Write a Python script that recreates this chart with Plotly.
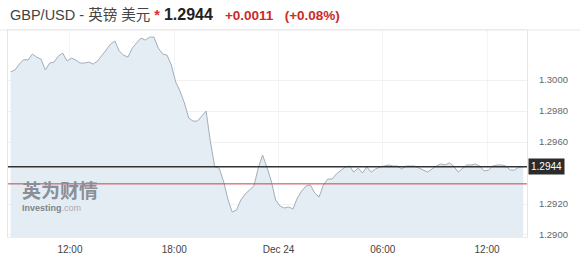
import plotly.graph_objects as go
import pandas as pd

# ---- data ----
start_time = "2019-12-23 08:35"
n_points = 119
values = [
    1.30053, 1.30065, 1.30103, 1.30132, 1.30129, 1.30168, 1.30148, 1.30135, 1.30065, 1.30110,
    1.30116, 1.30155, 1.30174, 1.30123, 1.30142, 1.30129, 1.30110, 1.30110, 1.30116, 1.30103,
    1.30123, 1.30155, 1.30194, 1.30232, 1.30252, 1.30187, 1.30161, 1.30148, 1.30206, 1.30239,
    1.30271, 1.30258, 1.30277, 1.30277, 1.30206, 1.30168, 1.30161, 1.30097, 1.29987, 1.29929,
    1.29852, 1.29755, 1.29735, 1.29735, 1.29768, 1.29800, 1.29600, 1.29439, 1.29432, 1.29348,
    1.29232, 1.29148, 1.29161, 1.29226, 1.29265, 1.29290, 1.29316, 1.29432, 1.29516, 1.29439,
    1.29348, 1.29226, 1.29187, 1.29174, 1.29181, 1.29168, 1.29239, 1.29284, 1.29316, 1.29323,
    1.29271, 1.29245, 1.29323, 1.29361, 1.29361, 1.29394, 1.29419, 1.29439, 1.29445, 1.29406,
    1.29432, 1.29400, 1.29439, 1.29406, 1.29426, 1.29439, 1.29445, 1.29452, 1.29445, 1.29445,
    1.29426, 1.29445, 1.29445, 1.29445, 1.29432, 1.29419, 1.29406, 1.29426, 1.29445, 1.29458,
    1.29452, 1.29465, 1.29445, 1.29406, 1.29432, 1.29452, 1.29452, 1.29458, 1.29445, 1.29413,
    1.29419, 1.29445, 1.29452, 1.29452, 1.29445, 1.29419, 1.29419, 1.29439, 1.29440,
]
times = pd.date_range(start_time, periods=n_points, freq="15min")

last_price = 1.2944
prev_close = 1.2933
ytick_vals = [1.2900, 1.2920, 1.2960, 1.2980, 1.3000]
xtick_vals = ["2019-12-23 12:00", "2019-12-23 18:00", "2019-12-24 00:00",
              "2019-12-24 06:00", "2019-12-24 12:00"]
xtick_text = ["12:00", "18:00", "Dec 24", "06:00", "12:00"]
x_range = ["2019-12-23 08:26", "2019-12-24 14:18"]
y_range = [1.28987, 1.30323]

FONT = "Liberation Sans, Arial, Noto Sans CJK SC, sans-serif"

fig = go.Figure()
fig.add_trace(go.Scatter(
    x=times, y=values, mode="lines",
    line=dict(color="#a2afbb", width=1),
    fill="tozeroy", fillcolor="#e4ecf4",
    hoverinfo="skip",
))

# horizontal reference lines
fig.add_shape(type="line", xref="paper", x0=0, x1=1, yref="y", y0=prev_close, y1=prev_close,
              line=dict(color="#c4444a", width=1), layer="above")
fig.add_shape(type="line", xref="paper", x0=0, x1=1, yref="y", y0=last_price, y1=last_price,
              line=dict(color="#333333", width=1.5), layer="above")
# header separator
fig.add_shape(type="line", xref="paper", x0=-0.02, x1=1.12, yref="paper", y0=1.0, y1=1.0,
              line=dict(color="#e8e8e8", width=1))

# price label box
fig.add_annotation(xref="paper", x=1.0, yref="y", y=last_price, xanchor="left", yanchor="middle",
                   text="1.2944", showarrow=False, bgcolor="#2b2b2b", borderpad=2,
                   font=dict(family=FONT, size=10, color="#ffffff"), xshift=1)

# header
fig.add_annotation(
    xref="paper", yref="paper", x=0, y=1.075, xanchor="left", yanchor="middle", showarrow=False,
    text=("GBP/USD - 英镑 美元 <span style='color:#e0302c'><b>*</b></span> "
          "<span style='font-size:16px;color:#222'><b>1.2944</b></span>   "
          "<span style='font-size:13.5px;color:#cc2b2b'><b>+0.0011</b>   <b>(+0.08%)</b></span>"),
    font=dict(family=FONT, size=14.5, color="#444444"),
)

# watermark
fig.add_annotation(xref="paper", yref="paper", x=0.024, y=0.228, xanchor="left", yanchor="middle",
                   showarrow=False, text="<b>英为财情</b>",
                   font=dict(family="Noto Sans CJK SC", size=19, color="#8a8f96"))
fig.add_annotation(xref="paper", yref="paper", x=0.024, y=0.14, xanchor="left", yanchor="middle",
                   showarrow=False,
                   text="<b>Investing</b><span style='color:#a8adb3'>.com</span>",
                   font=dict(family=FONT, size=9, color="#7e848b"))

fig.update_layout(
    width=580, height=258,
    margin=dict(l=8, r=53, t=30, b=21, autoexpand=False),
    paper_bgcolor="#ffffff", plot_bgcolor="#ffffff",
    showlegend=False,
    font=dict(family=FONT, size=10, color="#555555"),
    xaxis=dict(
        type="date", range=x_range, automargin=False,
        tickvals=xtick_vals, ticktext=xtick_text,
        showgrid=True, gridcolor="#f2f4f6", gridwidth=1,
        showline=True, linecolor="#ececec", mirror=True,
        zeroline=False, ticks="", ticklabelstandoff=3,
        tickfont=dict(family=FONT, size=10, color="#444444"),
    ),
    yaxis=dict(
        range=y_range, side="right", automargin=False,
        tickvals=ytick_vals, tickformat=".4f",
        showgrid=True, gridcolor="#f1f1f1", gridwidth=1,
        showline=True, linecolor="#e6e6e6", mirror=True,
        zeroline=False, ticks="", ticklabelstandoff=9,
        tickfont=dict(family=FONT, size=9.5, color="#666666"),
    ),
)

fig.write_html("out.html")
